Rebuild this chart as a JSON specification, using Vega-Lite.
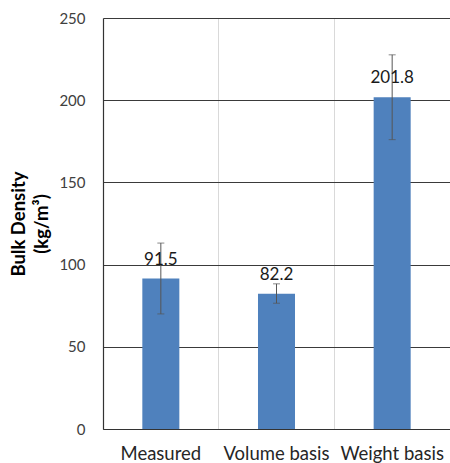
{
  "$schema": "https://vega.github.io/schema/vega-lite/v6.json",
  "autosize": "none",
  "padding": {"left": 103, "top": 18, "right": 0, "bottom": 34},
  "width": 347,
  "height": 411,
  "background": "white",
  "config": {"view": {"stroke": null}, "font": "Lato"},
  "data": {
    "values": [
      {"method": "Measured", "density": 91.5, "lo": 70.0, "hi": 113.1},
      {"method": "Volume basis", "density": 82.2, "lo": 76.5, "hi": 88.3},
      {"method": "Weight basis", "density": 201.8, "lo": 176.0, "hi": 227.6}
    ]
  },
  "encoding": {
    "x": {
      "field": "method",
      "type": "nominal",
      "sort": null,
      "scale": {"paddingInner": 0, "paddingOuter": 0},
      "axis": {
        "title": null,
        "labelAngle": 0,
        "labelFontSize": 18.5,
        "labelColor": "#262626",
        "labelPadding": 15,
        "ticks": false,
        "domainColor": "#333333",
        "domainWidth": 1.2,
        "grid": true,
        "gridColor": "#d9d9d9",
        "gridWidth": 1,
        "bandPosition": 0
      }
    }
  },
  "layer": [
    {
      "mark": {"type": "bar", "color": "#4F81BD", "width": {"band": 0.32}},
      "encoding": {
        "y": {
          "field": "density",
          "type": "quantitative",
          "scale": {"domain": [0, 250], "nice": false},
          "axis": {
            "values": [0, 50, 100, 150, 200, 250],
            "title": ["Bulk Density", "(kg/m³)"],
            "titleFontSize": 18.5,
            "titleFontWeight": "bold",
            "titleColor": "#000000",
            "titleLineHeight": 23,
            "titlePadding": 7,
            "labelFontSize": 15,
            "labelColor": "#404040",
            "labelPadding": 18,
            "ticks": false,
            "domainColor": "#333333",
            "domainWidth": 1.2,
            "gridColor": "#3a3a3a",
            "gridWidth": 1.2,
            "gridOpacity": 1
          }
        }
      }
    },
    {
      "mark": {"type": "rule", "color": "#555555", "strokeWidth": 1},
      "encoding": {
        "y": {"field": "lo", "type": "quantitative"},
        "y2": {"field": "hi"}
      }
    },
    {
      "mark": {"type": "tick", "color": "#555555", "size": 7, "thickness": 1},
      "encoding": {"y": {"field": "lo", "type": "quantitative"}}
    },
    {
      "mark": {"type": "tick", "color": "#555555", "size": 7, "thickness": 1},
      "encoding": {"y": {"field": "hi", "type": "quantitative"}}
    },
    {
      "mark": {"type": "text", "fontSize": 17, "color": "#1a1a1a", "baseline": "bottom", "dy": -10},
      "encoding": {
        "y": {"field": "density", "type": "quantitative"},
        "text": {"field": "density", "type": "quantitative", "format": ".1f"}
      }
    }
  ]
}
